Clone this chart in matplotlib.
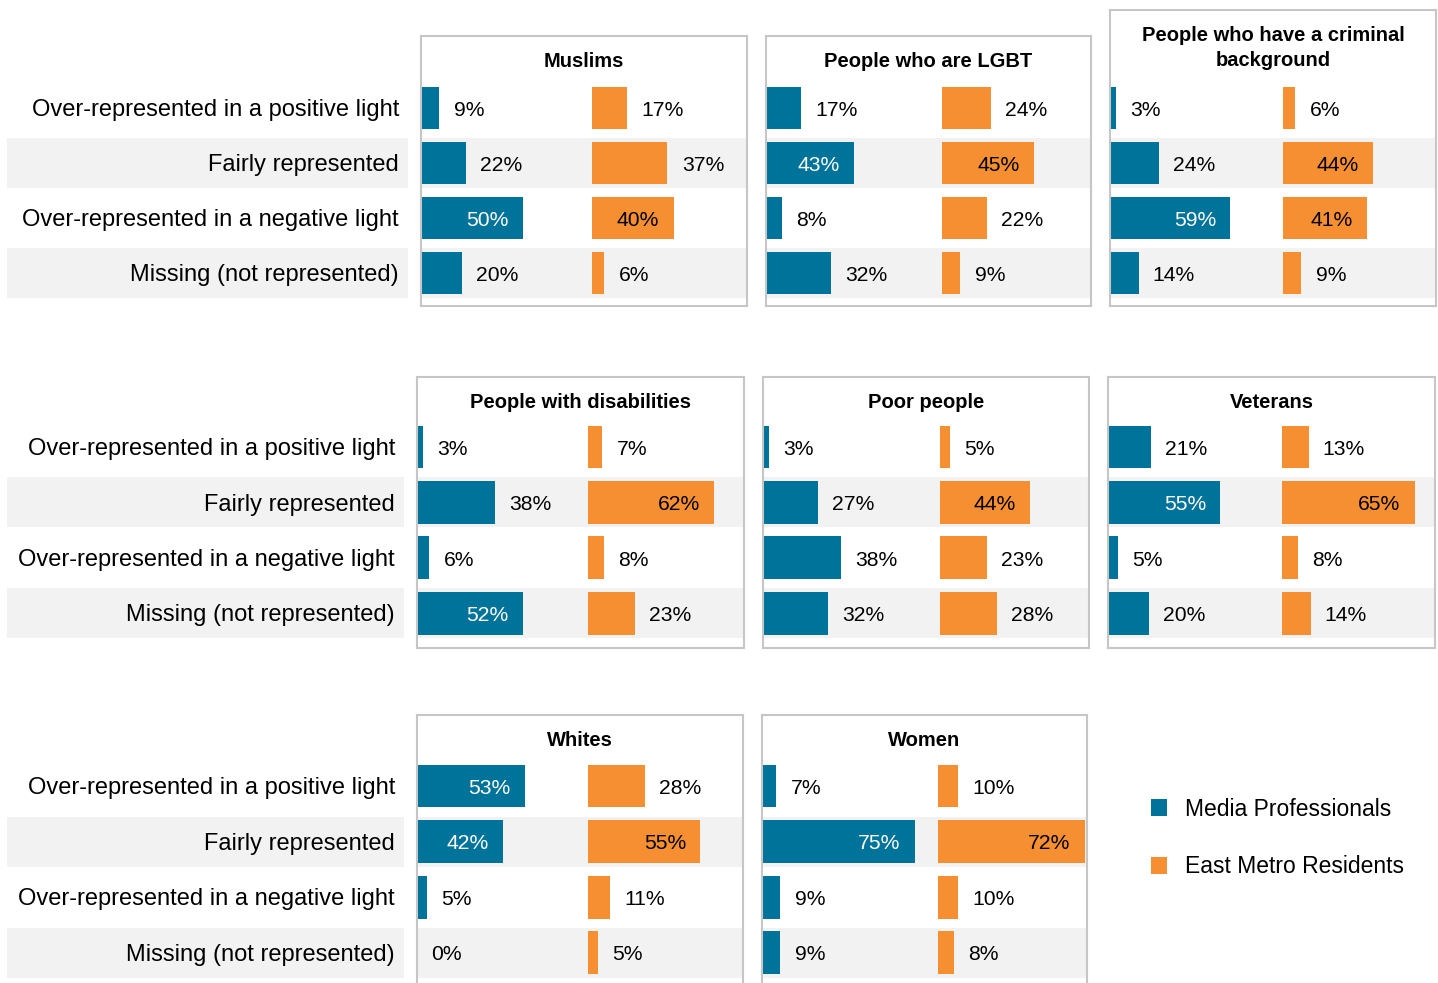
import matplotlib
matplotlib.use("Agg")
import matplotlib.pyplot as plt
from matplotlib.transforms import ScaledTranslation

# ---------------- data ----------------
categories = ["Over-represented in a positive light", "Fairly represented",
              "Over-represented in a negative light", "Missing (not represented)"]
series_names = ["Media Professionals", "East Metro Residents"]

titles = ["Muslims", "People who are LGBT", "People who have a criminal\nbackground",
          "People with disabilities", "Poor people", "Veterans",
          "Whites", "Women"]

media_muslims = [9, 22, 50, 20]
east_muslims = [17, 37, 40, 6]
media_lgbt = [17, 43, 8, 32]
east_lgbt = [24, 45, 22, 9]
media_criminal = [3, 24, 59, 14]
east_criminal = [6, 44, 41, 9]
media_disab = [3, 38, 6, 52]
east_disab = [7, 62, 8, 23]
media_poor = [3, 27, 38, 32]
east_poor = [5, 44, 23, 28]
media_veterans = [21, 55, 5, 20]
east_veterans = [13, 65, 8, 14]
media_whites = [53, 42, 5, 0]
east_whites = [28, 55, 11, 5]
media_women = [7, 75, 9, 9]
east_women = [10, 72, 10, 8]

media_values = [media_muslims, media_lgbt, media_criminal, media_disab,
                media_poor, media_veterans, media_whites, media_women]
east_values = [east_muslims, east_lgbt, east_criminal, east_disab,
               east_poor, east_veterans, east_whites, east_women]

# ---------------- style / layout ----------------
BLUE = "#00739A"
ORANGE = "#F58F31"
BAND = "#F2F2F2"
BORDER = "#C6C6C6"
W, H = 1438, 983
SANS = ["Liberation Sans", "DejaVu Sans"]

fig = plt.figure(figsize=(W / 100, H / 100), dpi=100)
fig.patch.set_facecolor("white")
DOWN = ScaledTranslation(0, -2.2 / 100, fig.dpi_scale_trans)


def add_px_axes(x0, x1, y0, y1):
    return fig.add_axes([x0 / W, 1 - y1 / H, (x1 - x0) / W, (y1 - y0) / H])


groups = [
    dict(r0=108, pitch=55.0, top=36, bottom=306, ty=59, band_r=408, tx=399),
    dict(r0=447, pitch=55.4, top=377, bottom=648, ty=400, band_r=404, tx=395),
    dict(r0=786, pitch=55.6, top=715, bottom=1005, ty=738, band_r=404, tx=395),
]
# panel x extents (px), group index, orange column offset (px)
panels = [
    (421, 747, 0, 171), (766, 1091, 0, 176), (1110, 1436, 0, 173),
    (417, 744, 1, 171), (763, 1089, 1, 177), (1108, 1435, 1, 174),
    (417, 743, 2, 171), (762, 1087, 2, 176),
]
PX_PER_UNIT = 2.04
BAR_H = 0.77
BAND_H = 0.9

# row label areas
for g in groups:
    ax = add_px_axes(7, g["band_r"], g["top"], g["bottom"])
    ax.set_xlim(0, g["band_r"] - 7)
    ax.set_ylim((g["bottom"] - g["r0"]) / g["pitch"], (g["top"] - g["r0"]) / g["pitch"])
    tr = ax.transData + DOWN
    for i, cat in enumerate(categories):
        if i % 2 == 1:
            ax.axhspan(i - BAND_H / 2, i + BAND_H / 2, color=BAND, lw=0, zorder=0)
        ax.text(g["tx"] - 7, i, cat, ha="right", va="center", fontsize=17,
                family=SANS, color="black", transform=tr)
    ax.axis("off")

handles, labels = None, None
for p, (x0, x1, gi, off_px) in enumerate(panels):
    g = groups[gi]
    top = 10 if p == 2 else g["top"]
    ax = add_px_axes(x0, x1, top, g["bottom"])
    ax.set_xlim(0, (x1 - x0) / PX_PER_UNIT)
    ax.set_ylim((g["bottom"] - g["r0"]) / g["pitch"], (top - g["r0"]) / g["pitch"])
    tr = ax.transData + DOWN
    off = off_px / PX_PER_UNIT
    ypos = list(range(len(categories)))
    for i in ypos:
        if i % 2 == 1:
            ax.axhspan(i - BAND_H / 2, i + BAND_H / 2, color=BAND, lw=0, zorder=0)
    mv = media_values[p]
    ev = east_values[p]
    ax.barh(ypos, mv, height=BAR_H, left=0, color=BLUE, zorder=2,
            label=series_names[0])
    ax.barh(ypos, ev, height=BAR_H, left=off, color=ORANGE, zorder=2,
            label=series_names[1])
    for i in ypos:
        for val, base, inside_col in ((mv[i], 0, "white"), (ev[i], off, "black")):
            end = base + val
            if val >= 40:
                ax.text(end - 7, i, f"{val}%", ha="right", va="center",
                        fontsize=15.2, family=SANS, color=inside_col, zorder=3,
                        transform=tr)
            else:
                ax.text(end + 7, i, f"{val}%", ha="left", va="center",
                        fontsize=15.2, family=SANS, color="black", zorder=3,
                        transform=tr)
    title_y = (g["ty"] - g["r0"]) / g["pitch"]
    if p == 2:
        title_y = (45.5 - g["r0"]) / g["pitch"]
    ax.text((x1 - x0) / PX_PER_UNIT / 2, title_y, titles[p], ha="center",
            va="center", fontsize=14.5, fontweight="bold", family=SANS,
            linespacing=1.4, transform=tr)
    ax.set_xticks([])
    ax.set_yticks([])
    for s in ax.spines.values():
        s.set_color(BORDER)
        s.set_linewidth(1.5)
    if p == 0:
        handles, labels = ax.get_legend_handles_labels()

leg = fig.legend(handles, labels, loc="center left",
                 bbox_to_anchor=(1151 / W, 1 - 838 / H), frameon=False,
                 prop={"family": SANS, "size": 16.5},
                 handlelength=0.7, handleheight=0.76, handletextpad=0.79,
                 labelspacing=1.5, borderpad=0, borderaxespad=0)

fig.savefig("out.png", dpi=100, facecolor="white")
